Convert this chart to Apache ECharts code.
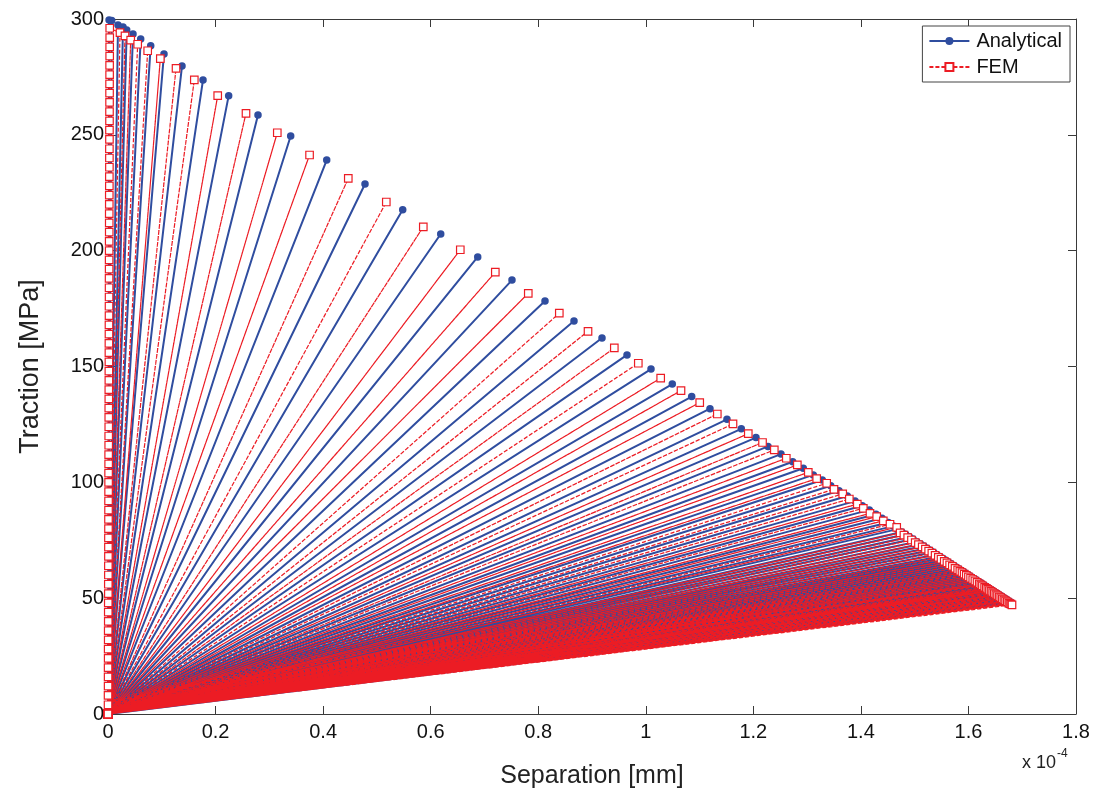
<!DOCTYPE html>
<html>
<head>
<meta charset="utf-8">
<title>Traction-separation</title>
<script src="https://cdn.jsdelivr.net/npm/echarts@6/dist/echarts.min.js"></script>
<style>
  html, body { margin: 0; padding: 0; background: #fff; }
  #chart { width: 1096px; height: 801px; }
</style>
</head>
<body>
<div id="chart"></div>
<script>
// separation in units of 1e-4 mm, traction in MPa

// initial elastic loading (steep, almost on the y axis)
const anaLoadX = [0, 0.0014, 0.002];
const anaLoadY = [0, 212, 299.6];
const femLoadX = [0, 0.0001, 0.0001, 0.0002, 0.0002, 0.0002, 0.0003, 0.0003, 0.0004, 0.0004,
  0.0005, 0.0005, 0.0005, 0.0006, 0.0006, 0.0007, 0.0007, 0.0008, 0.0008, 0.0008,
  0.0009, 0.0009, 0.001, 0.001, 0.0011, 0.0011, 0.0011, 0.0012, 0.0012, 0.0013,
  0.0013, 0.0014, 0.0014, 0.0014, 0.0015, 0.0015, 0.0016, 0.0016, 0.0017, 0.0017,
  0.0017, 0.0018, 0.0018, 0.0019, 0.0019, 0.002, 0.002, 0.002, 0.0021, 0.0021,
  0.0022, 0.0022, 0.0023, 0.0023, 0.0023, 0.0024, 0.0024, 0.0025, 0.0025, 0.0026,
  0.0026, 0.0026, 0.0027, 0.0027, 0.0028, 0.0028, 0.0029, 0.0029, 0.0029, 0.003,
  0.003, 0.0031, 0.0031, 0.0032, 0.0032];
const femLoadY = [0, 4, 8, 12, 16, 20, 24, 28, 32, 36,
  40, 44, 48, 52, 56, 60, 64, 68, 72, 76,
  80, 84, 88, 92, 96, 100, 104, 108, 112, 116,
  120, 124, 128, 132, 136, 140, 144, 148, 152, 156,
  160, 164, 168, 172, 176, 180, 184, 188, 192, 196,
  200, 204, 208, 212, 216, 220, 224, 228, 232, 236,
  240, 244, 248, 252, 256, 260, 264, 268, 272, 276,
  280, 284, 288, 292, 296];

// peaks of the unload/reload cycles - Analytical
const anaPeakX = [0.0069, 0.0186, 0.0279, 0.0348, 0.0465, 0.0608, 0.0794, 0.1041, 0.1376, 0.1767,
  0.2244, 0.2789, 0.3397, 0.4067, 0.4779, 0.548, 0.6187, 0.6875, 0.7512, 0.8126,
  0.8665, 0.9186, 0.9651, 1.0097, 1.0493, 1.0854, 1.1194, 1.151, 1.1776, 1.2049,
  1.2273, 1.2514, 1.2732, 1.2929, 1.3115, 1.3282, 1.3439, 1.3593, 1.3748, 1.3891,
  1.4026, 1.4157, 1.4281, 1.4393, 1.451, 1.4603, 1.468, 1.476, 1.483, 1.49,
  1.497, 1.504, 1.511, 1.517, 1.523, 1.529, 1.535, 1.541, 1.547, 1.552,
  1.557, 1.562, 1.567, 1.572, 1.577, 1.582, 1.586, 1.59, 1.594, 1.598,
  1.602, 1.606, 1.61, 1.614, 1.618, 1.621, 1.624, 1.628, 1.631, 1.634,
  1.637, 1.64, 1.643, 1.646, 1.649, 1.652, 1.655, 1.658, 1.661, 1.664,
  1.667, 1.67, 1.673, 1.676, 1.678, 1.68];
const anaPeakY = [299.3, 297.4, 296.5, 295.2, 293.5, 291.4, 288.5, 284.9, 279.7, 273.7,
  266.9, 258.6, 249.5, 239.1, 228.8, 217.7, 207.2, 197.3, 187.3, 178.3,
  169.6, 162.3, 155.0, 148.9, 142.4, 137.0, 131.8, 127.2, 123.1, 119.3,
  115.5, 112.2, 108.9, 106.1, 103.2, 101.0, 98.5, 96.4, 94.1, 91.9,
  89.9, 88.1, 86.2, 84.5, 82.7, 81.1, 79.8, 78.6, 77.6, 76.5,
  75.5, 74.4, 73.4, 72.5, 71.6, 70.7, 69.8, 68.9, 68.0, 67.2,
  66.5, 65.7, 65.0, 64.2, 63.5, 62.7, 62.1, 61.5, 60.9, 60.3,
  59.7, 59.1, 58.5, 57.9, 57.3, 56.9, 56.4, 55.8, 55.4, 54.9,
  54.5, 54.0, 53.6, 53.1, 52.7, 52.2, 51.8, 51.3, 50.9, 50.4,
  50.0, 49.5, 49.1, 48.6, 48.3, 48.0];

// peaks of the unload/reload cycles - FEM
const femPeakX = [0.0223, 0.0316, 0.0422, 0.0552, 0.0738, 0.0973, 0.1265, 0.1605, 0.204, 0.2566,
  0.3148, 0.3748, 0.4468, 0.5175, 0.5863, 0.6551, 0.7202, 0.7815, 0.8392, 0.8926,
  0.9415, 0.9861, 1.0277, 1.0655, 1.1003, 1.133, 1.1622, 1.1906, 1.2171, 1.239,
  1.2613, 1.2818, 1.3022, 1.3178, 1.3364, 1.35, 1.3662, 1.3785, 1.3933, 1.4045,
  1.4169, 1.4294, 1.4417, 1.4541, 1.4666, 1.473, 1.48, 1.487, 1.494, 1.501,
  1.507, 1.514, 1.52, 1.526, 1.532, 1.538, 1.544, 1.549, 1.555, 1.56,
  1.565, 1.57, 1.575, 1.58, 1.584, 1.588, 1.592, 1.596, 1.6, 1.604,
  1.608, 1.612, 1.616, 1.62, 1.623, 1.626, 1.63, 1.633, 1.636, 1.639,
  1.642, 1.645, 1.648, 1.651, 1.654, 1.657, 1.66, 1.663, 1.666, 1.669,
  1.672, 1.675, 1.677, 1.679, 1.681];
const femPeakY = [294.1, 292.7, 290.9, 289.1, 286.3, 282.9, 278.7, 273.7, 266.9, 259.3,
  250.9, 241.3, 231.2, 221.0, 210.3, 200.4, 190.7, 181.6, 173.0, 165.2,
  158.0, 151.4, 145.0, 139.6, 134.4, 129.5, 125.2, 121.0, 117.2, 114.0,
  110.4, 107.5, 104.3, 101.6, 99.6, 97.0, 95.0, 92.8, 90.6, 88.8,
  86.6, 85.2, 83.4, 81.9, 80.6, 78.2, 77.2, 76.1, 75.1, 74.0,
  73.1, 72.1, 71.2, 70.3, 69.4, 68.5, 67.6, 66.8, 65.9, 65.2,
  64.4, 63.7, 62.9, 62.2, 61.6, 61.0, 60.4, 59.8, 59.2, 58.6,
  58.0, 57.4, 56.8, 56.2, 55.7, 55.3, 54.7, 54.2, 53.8, 53.3,
  52.9, 52.4, 52.0, 51.5, 51.1, 50.6, 50.2, 49.7, 49.3, 48.8,
  48.4, 47.9, 47.6, 47.4, 47.1];

const xTicks = [0, 0.2, 0.4, 0.6, 0.8, 1, 1.2, 1.4, 1.6, 1.8];
const yTicks = [0, 50, 100, 150, 200, 250, 300];

// loading path, then unload to origin and reload to the next peak
function cyclePath(loadX, loadY, peakX, peakY) {
  const pts = loadX.map((x, i) => [x, loadY[i]]);
  peakX.forEach((x, i) => {
    pts.push([x, peakY[i]]);
    pts.push([0, 0]);
  });
  return pts;
}

const FONT = '"Liberation Sans", Arial, sans-serif';
const AXIS_COL = '#3a3a3a';
const BLUE = '#2f4d9f';
const RED = '#ec1c24';

const myChart = echarts.init(document.getElementById('chart'));

const baseX = {
  type: 'value',
  min: xTicks[0],
  max: xTicks[xTicks.length - 1],
  interval: 0.2,
  splitLine: { show: false },
  axisLine: { show: true, onZero: false, lineStyle: { color: AXIS_COL, width: 1 } },
  axisTick: { show: true, inside: true, length: 8, lineStyle: { color: AXIS_COL } }
};
const baseY = {
  type: 'value',
  min: yTicks[0],
  max: yTicks[yTicks.length - 1],
  interval: 50,
  splitLine: { show: false },
  axisLine: { show: true, onZero: false, lineStyle: { color: AXIS_COL, width: 1 } },
  axisTick: { show: true, inside: true, length: 8, lineStyle: { color: AXIS_COL } }
};

const option = {
  backgroundColor: '#fff',
  animation: false,
  textStyle: { fontFamily: FONT },
  grid: { left: 108, right: 20, top: 19, bottom: 87, containLabel: false },
  legend: {
    orient: 'vertical',
    right: 26,
    top: 26,
    itemWidth: 40,
    itemHeight: 10,
    itemGap: 6,
    padding: [5, 8, 5, 6],
    borderColor: '#444',
    borderWidth: 1,
    backgroundColor: '#fff',
    textStyle: { fontSize: 20, color: '#111', fontFamily: FONT, padding: [0, 0, 0, 2] },
    data: ['Analytical', 'FEM']
  },
  xAxis: [
    Object.assign({}, baseX, {
      position: 'bottom',
      name: 'Separation [mm]',
      nameLocation: 'middle',
      nameGap: 50,
      nameTextStyle: { fontSize: 25, color: '#222', fontFamily: FONT },
      axisLabel: { fontSize: 20, color: '#111', margin: 8, fontFamily: FONT,
        formatter: v => String(Math.round(v * 10) / 10) }
    }),
    Object.assign({}, baseX, { position: 'top', axisLabel: { show: false } })
  ],
  yAxis: [
    Object.assign({}, baseY, {
      position: 'left',
      name: 'Traction [MPa]',
      nameLocation: 'middle',
      nameGap: 64,
      nameTextStyle: { fontSize: 27, color: '#222', fontFamily: FONT },
      axisLabel: { fontSize: 20, color: '#111', margin: 4, fontFamily: FONT }
    }),
    Object.assign({}, baseY, { position: 'right', axisLabel: { show: false } })
  ],
  graphic: [
    {
      type: 'text',
      left: 1022,
      top: 748,
      style: {
        text: '{b|x 10}{s|-4}',
        rich: {
          b: { fontSize: 18, fill: '#222', fontFamily: FONT, verticalAlign: 'bottom', lineHeight: 24 },
          s: { fontSize: 12, fill: '#222', fontFamily: FONT, verticalAlign: 'top', lineHeight: 24, padding: [0, 0, 12, 1] }
        }
      }
    }
  ],
  series: [
    {
      name: 'Analytical',
      type: 'line',
      xAxisIndex: 0,
      yAxisIndex: 0,
      data: cyclePath(anaLoadX, anaLoadY, anaPeakX, anaPeakY),
      symbol: 'circle',
      symbolSize: 7.5,
      showSymbol: true,
      itemStyle: { color: BLUE },
      lineStyle: { color: BLUE, width: 2, join: 'round' },
      emphasis: { disabled: true }
    },
    {
      name: 'FEM',
      type: 'line',
      xAxisIndex: 0,
      yAxisIndex: 0,
      data: cyclePath(femLoadX, femLoadY, femPeakX, femPeakY),
      symbol: 'rect',
      symbolSize: 7.5,
      showSymbol: true,
      itemStyle: { color: '#fff', borderColor: RED, borderWidth: 1.2 },
      lineStyle: { color: RED, width: 1.2, type: [4, 2], join: 'round' },
      emphasis: { disabled: true }
    }
  ]
};

myChart.setOption(option);

window.addEventListener('resize', () => {
  myChart.resize();
});
</script>
</body>
</html>
